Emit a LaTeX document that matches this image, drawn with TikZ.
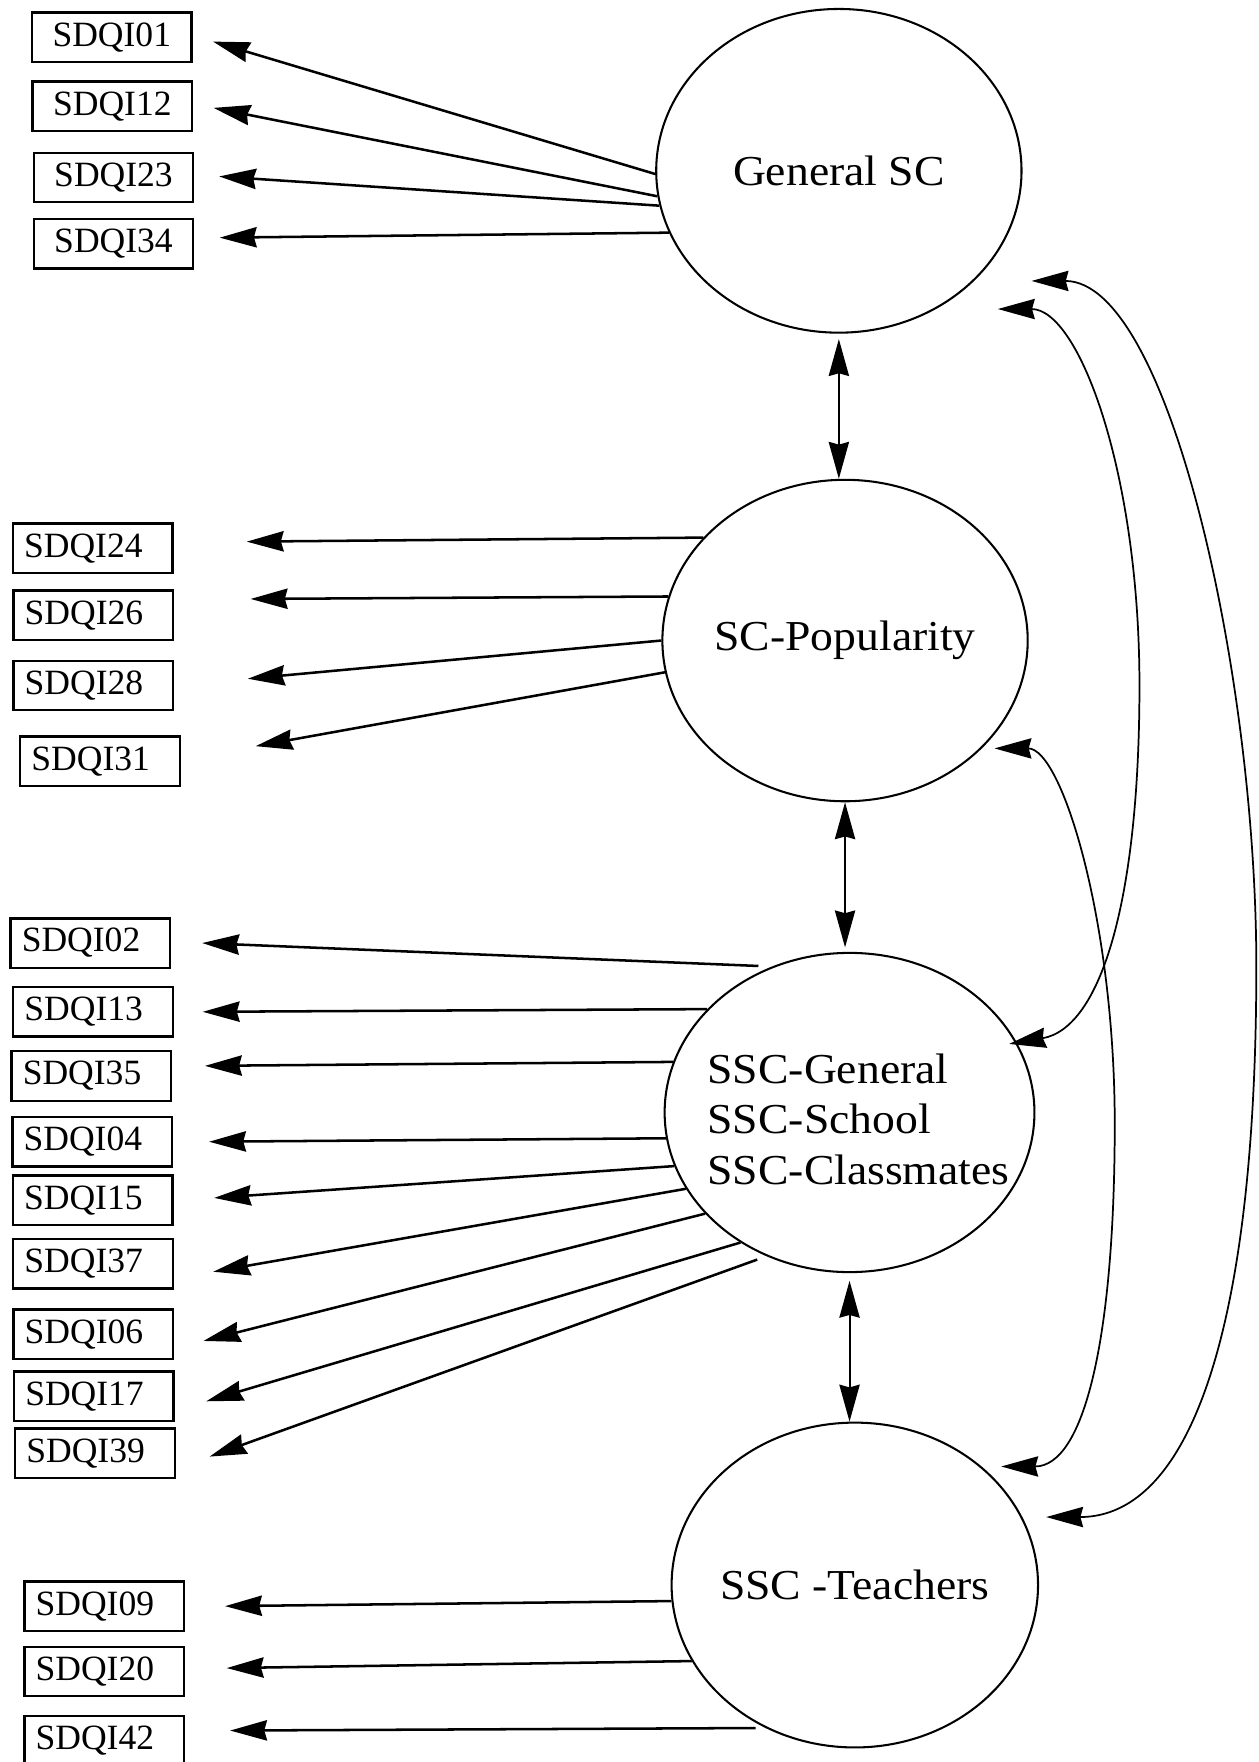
\documentclass[tikz,border=0pt]{standalone}
\usepackage{fontspec}
\setmainfont{Liberation Serif}
\newfontfamily\latfont[FakeStretch=1.07]{Liberation Serif}
\usetikzlibrary{arrows.meta,shapes.geometric,calc}
\begin{document}
\begin{tikzpicture}[x=0.025cm,y=-0.025cm,
  >={Stealth[length=0.82cm,width=0.45cm,inset=0.06cm]},
  box/.style={draw,line width=1.5pt,minimum height=1.1cm,inner ysep=0pt,inner xsep=0.25cm,
    text width=3.05cm,align=left,font=\fontsize{22.5}{25}\selectfont},
  boxc/.style={box,align=center},
  lat/.style={draw,ellipse,line width=1.3pt,inner sep=0pt},
  lbl/.style={font=\latfont\fontsize{27}{32}\selectfont},
  load/.style={line width=1.6pt,->},
  cov/.style={line width=1.3pt,<->},
  cur/.style={line width=1.1pt,<->}]
\useasboundingbox (0,0) rectangle (1120,1568);

% latent variables
\node[lat,minimum width=8.125cm,minimum height=7.2cm,label={[lbl]center:General SC}] (gsc) at (746.5,152) {};
\node[lat,minimum width=8.125cm,minimum height=7.15cm,label={[lbl]center:SC-Popularity}] (pop) at (752,570) {};
\node[lat,minimum width=8.225cm,minimum height=7.1cm,
  label={[lbl,align=left,xshift=0.2cm,yshift=-0.15cm]center:SSC-General\\SSC-School\\SSC-Classmates}] (ssc) at (756,990) {};
\node[lat,minimum width=8.15cm,minimum height=7.225cm,label={[lbl]center:SSC -Teachers}] (tea) at (760.7,1410.5) {};

% indicators
\node[boxc] (b01) at (99.5,33) {SDQI01};
\node[boxc] (b12) at (100,94.5) {SDQI12};
\node[boxc] (b23) at (101,158) {SDQI23};
\node[boxc] (b34) at (101,217) {SDQI34};

\node[box] (b24) at (82.5,488) {SDQI24};
\node[box] (b26) at (83,547.5) {SDQI26};
\node[box] (b28) at (83,610) {SDQI28};
\node[box] (b31) at (89,677.5) {SDQI31};

\node[box] (b02) at (80.4,839.2) {SDQI02};
\node[box] (b13) at (82.8,900.4) {SDQI13};
\node[box] (b35) at (81.3,957.5) {SDQI35};
\node[box] (b04) at (82,1016) {SDQI04};
\node[box] (b15) at (82.5,1068) {SDQI15};
\node[box] (b37) at (82.8,1124.7) {SDQI37};
\node[box] (b06) at (83,1187.3) {SDQI06};
\node[box] (b17) at (83.5,1242.5) {SDQI17};
\node[box] (b39) at (84.5,1293.2) {SDQI39};

\node[box] (b09) at (92.7,1429.3) {SDQI09};
\node[box] (b20) at (92.7,1487.4) {SDQI20};
\node[box] (b42) at (92.7,1549) {SDQI42};

% loadings
\draw[load] (gsc.181.7) -- ($(b01.east)+(18,4)$);
\draw[load] (gsc.188) -- ($(b12.east)+(18,1.5)$);
\draw[load] (gsc.191.3) -- ($(b23.east)+(22,-1)$);
\draw[load] (gsc.200.9) -- ($(b34.east)+(22.5,-5.5)$);

\draw[load] (pop.144.4) -- ($(b24.east)+(65,-6)$);
\draw[load] (pop.166.2) -- ($(b26.east)+(68,-14.5)$);
\draw[load] (pop.180.2) -- ($(b28.east)+(65.5,-6)$);
\draw[load] (pop.190.8) -- ($(b31.east)+(66.5,-13.5)$);

\draw[load,shorten <=0.3cm] (ssc.118.1) -- ($(b02.east)+(27.5,0)$);
\draw[load] (ssc.144.4) -- ($(b13.east)+(25.5,0)$);
\draw[load] (ssc.164.4) -- ($(b35.east)+(29,-9)$);
\draw[load] (ssc.188) -- ($(b04.east)+(32,0)$);
\draw[load] (ssc.197) -- ($(b15.east)+(36,-2)$);
\draw[load] (ssc.205.9) -- ($(b37.east)+(35,7)$);
\draw[load] (ssc.215.6) -- ($(b06.east)+(26,6)$);
\draw[load] (ssc.230.9) -- ($(b17.east)+(28,4.5)$);
\draw[load,shorten <=0.22cm] (ssc.240.9) -- ($(b39.east)+(30,3)$);

\draw[load] (tea.185.8) -- ($(b09.east)+(35.5,0)$);
\draw[load] (tea.205.9) -- ($(b20.east)+(37,-3)$);
\draw[load,shorten <=0.22cm] (tea.238.5) -- ($(b42.east)+(40,-9)$);

% covariances between adjacent factors
\draw[cov,shorten <=0.12cm] (gsc.south) -- (gsc.south |- pop.north);
\draw[cov,shorten >=0.1cm] (pop.south) -- (pop.south |- ssc.north);
\draw[cov,shorten <=0.17cm] (ssc.south) -- (ssc.south |- tea.north);

% curved covariances
\coordinate (c1a) at (918,250);
\coordinate (c1b) at (931,1350);
\coordinate (c2a) at (888,275);
\coordinate (c2b) at (898,929);
\coordinate (c3a) at (885,666);
\coordinate (c3b) at (891,1305);
\draw[cur] (c1a) .. controls (1040,250) and (1118,600) .. (1118,860)
  .. controls (1118,1180) and (1060,1350) .. (c1b);
\draw[cur] (c2a) .. controls (960,275) and (1014,420) .. (1014,610)
  .. controls (1014,800) and (980,915) .. (c2b);
\draw[cur] (c3a) .. controls (945,666) and (992,820) .. (992,1000)
  .. controls (992,1190) and (965,1305) .. (c3b);
\end{tikzpicture}
\end{document}
